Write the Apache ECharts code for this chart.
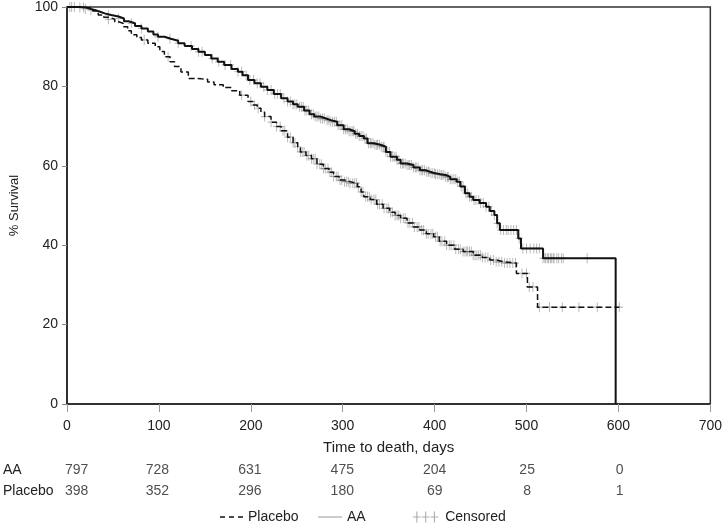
<!DOCTYPE html>
<html>
<head>
<meta charset="utf-8">
<script src="https://cdn.jsdelivr.net/npm/echarts@6/dist/echarts.min.js"></script>
<style>
html,body{margin:0;padding:0;background:#fff;}
#chart{width:725px;height:526px;}
</style>
</head>
<body>
<div id="chart"></div>
<script>
// ---- data ----
const xTicks = [0, 100, 200, 300, 400, 500, 600, 700];
const riskDays = [0, 100, 200, 300, 400, 500, 600];
const riskAA = [797, 728, 631, 475, 204, 25, 0];
const riskPlacebo = [398, 352, 296, 180, 69, 8, 1];

// Kaplan-Meier curves: [day, % survival after event]
const aaCurve = [[0,100],[12,99.9],[20,99.5],[26,99.2],[31,98.8],[36,98.4],[41,98],[48,97.6],[56,97.1],[62,96.4],[67,95.9],[74,95.2],[81,94.6],[88,93.8],[94,93.1],[99,92.5],[106,92],[113,91.5],[121,90.9],[128,90.2],[136,89.4],[143,88.7],[150,87.9],[157,87],[164,86.2],[171,85.4],[179,84.4],[186,83.7],[191,82.8],[197,81.6],[204,80.8],[211,79.9],[218,79.1],[225,78.1],[233,77],[240,76.2],[246,75.5],[251,74.9],[258,73.9],[264,73],[269,72.4],[276,71.9],[282,71.5],[287,71.1],[294,70.2],[301,69.2],[307,68.7],[313,68.1],[318,67.5],[323,66.9],[327,65.7],[334,65.3],[341,64.8],[347,63.5],[352,62.3],[359,61.5],[363,60.6],[370,60.2],[377,59.6],[384,58.9],[390,58.5],[395,58.1],[401,57.9],[406,57.7],[412,57.2],[417,56.6],[424,56],[428,54.8],[433,53.1],[438,52.2],[442,51.4],[449,50.6],[456,49.7],[460,48.6],[465,47.6],[468,45.5],[471,43.8],[491,41.7],[494,39.2],[518,36.7],[597,0]];

const placeboCurve = [[0,100],[15,99.9],[23,99.7],[28,99],[34,98],[40,97.4],[45,96.9],[52,96.3],[56,95.9],[61,95],[66,94],[70,93],[76,92.3],[81,91.7],[88,90.9],[96,90],[101,88.8],[106,87.5],[112,86.2],[117,85],[124,83.6],[132,82],[140,81.9],[146,81.8],[153,81.1],[160,80.4],[170,79.7],[179,78.9],[188,77.8],[197,76.2],[202,75.3],[207,74.5],[211,73.5],[215,72.4],[222,71],[228,69.9],[233,68.8],[240,67.2],[246,65.8],[251,64.8],[254,63.5],[260,62.6],[266,61.8],[272,60.4],[279,59.3],[285,58.4],[290,57.3],[296,56.4],[302,56],[308,55.6],[316,54.7],[320,53.4],[323,52.2],[330,51.5],[337,50.3],[344,49.3],[351,48.3],[357,47.5],[363,46.8],[370,45.6],[377,44.6],[384,43.8],[391,42.9],[399,42.1],[405,41],[413,40],[422,39],[431,38.4],[442,37.5],[452,36.9],[460,36.3],[467,35.8],[476,35.5],[489,32.9],[501,29.5],[512,24.4],[601,24.4]];

// censoring times (days)
const aaCensor = [3,8,14,20,26,45,56,70,81,99,112,121,135,143,147,158,165,172,178,186,190,195,199,203,207,210,214,218,222,226,229,232,236,240,243,246,248,250,253,255,257,259,261,263,266,268,270,272,274,276,278,280,283,285,287,289,291,293,295,297,299,301,303,305,307,309,311,312,314,316,318,320,322,324,326,328,330,331,333,335,337,338,340,342,344,345,347,349,351,352,354,356,358,359,361,363,365,366,368,370,372,373,375,377,379,380,382,384,386,387,389,391,393,394,396,398,400,401,403,405,407,408,410,412,414,415,417,419,421,423,425,427,429,431,434,436,438,440,443,445,448,450,453,456,459,462,465,468,472,475,478,480,483,486,489,492,496,500,504,508,511,514,518,520,521,523,524,526,527,529,530,533,535,538,540,566];
const placeboCensor = [5,18,45,84,110,190,200,204,208,215,222,228,232,235,237,240,243,246,248,251,254,256,258,261,263,266,268,270,272,275,277,279,281,284,286,288,290,293,295,297,299,302,304,306,308,311,313,315,317,320,322,325,327,329,331,334,336,338,340,343,345,348,350,352,354,357,359,361,363,366,368,371,373,376,378,381,383,386,388,391,393,396,398,401,403,406,408,411,413,416,418,421,423,426,428,431,433,435,436,438,440,442,444,446,448,450,452,455,458,461,464,467,470,473,476,479,482,485,488,495,500,503,507,514,525,539,557,577,601];

// ---- helpers ----
function survAt(curve, t) {
  let s = curve[0][1];
  for (const p of curve) { if (p[0] <= t) s = p[1]; }
  return s;
}
const censorData = aaCensor.map(t => [t, survAt(aaCurve, t)])
  .concat(placeboCensor.map(t => [t, survAt(placeboCurve, t)]));

function riskRow(name, vals) {
  return vals.map((v, i) => {
    const item = { value: [riskDays[i], name, v] };
    if (i === 0) item.label = { align: 'left' };
    return item;
  });
}

const FONT = "'Liberation Sans', Arial, sans-serif";
const TXT = '#222';
const plusPath = 'path://M3,0h1v10h-1z M0,4.4h7v1.2h-7z';
const plus3Path = 'path://M3,0h1v10h-1z M0,4.5h7v1h-7z M11,0h1v10h-1z M8,4.5h7v1h-7z M19,0h1v10h-1z M16,4.5h7v1h-7z';
const dashIcon = 'path://M0,0h5v1.6h-5z M9,0h5v1.6h-5z M18,0h5v1.6h-5z';
const solidIcon = 'path://M0,0h24v1.2h-24z';

const chart = echarts.init(document.getElementById('chart'), null, { renderer: 'canvas' });

const riskAxisY = (name, gi) => ({
  type: 'category', gridIndex: gi, data: [name],
  axisLine: { show: false }, axisTick: { show: false }, splitLine: { show: false },
  axisLabel: { show: true, align: 'left', margin: 62, fontSize: 14, color: TXT, fontFamily: FONT }
});
const riskAxisX = gi => ({ type: 'value', gridIndex: gi, min: 0, max: 700, show: false });

const riskSeries = (name, vals, gi) => ({
  type: 'scatter', xAxisIndex: gi, yAxisIndex: gi, symbolSize: 1,
  itemStyle: { color: 'rgba(0,0,0,0)' }, silent: true, legendHoverLink: false,
  label: { show: true, position: 'inside', formatter: p => String(p.data.value[2]), color: TXT, fontSize: 14, fontFamily: FONT },
  data: riskRow(name, vals)
});

const legendText = { fontSize: 14, color: TXT, fontFamily: FONT };

chart.setOption({
  animation: false,
  textStyle: { fontFamily: FONT },
  grid: [
    { left: 65, top: 7, width: 647, height: 397, show: true, borderColor: '#333', borderWidth: 1.5 },
    { left: 65, top: 460, width: 647, height: 20 },
    { left: 65, top: 481, width: 647, height: 20 }
  ],
  xAxis: [
    {
      type: 'value', gridIndex: 0, min: 0, max: 700, interval: 100,
      name: 'Time to death, days', nameLocation: 'middle', nameGap: 36,
      nameTextStyle: { fontSize: 15, color: TXT, fontFamily: FONT },
      axisLine: { lineStyle: { color: '#222', width: 1.5 } },
      axisTick: { length: 8, lineStyle: { color: '#999' } },
      axisLabel: { margin: 15, fontSize: 14, color: TXT, fontFamily: FONT },
      splitLine: { show: false }
    },
    riskAxisX(1), riskAxisX(2)
  ],
  yAxis: [
    {
      type: 'value', gridIndex: 0, min: 0, max: 100, interval: 20,
      name: '% Survival', nameLocation: 'middle', nameGap: 46, nameRotate: 90,
      nameTextStyle: { fontSize: 13, color: TXT, fontFamily: FONT },
      axisLine: { show: true, lineStyle: { color: '#222', width: 1.5 } },
      axisTick: { show: true, length: 5, lineStyle: { color: '#888' } },
      axisLabel: { margin: 9, fontSize: 14, color: TXT, fontFamily: FONT },
      splitLine: { show: false }
    },
    riskAxisY('AA', 1), riskAxisY('Placebo', 2)
  ],
  legend: [
    { left: 220, top: 510, padding: 0, selectedMode: false, itemWidth: 23, itemHeight: 12, symbolKeepAspect: true,
      data: [{ name: 'Placebo', icon: dashIcon, itemStyle: { color: '#111', borderWidth: 0 } }], textStyle: legendText },
    { left: 318, top: 510, padding: 0, selectedMode: false, itemWidth: 24, itemHeight: 12, symbolKeepAspect: true,
      data: [{ name: 'AA', icon: solidIcon, itemStyle: { color: '#aaa', borderWidth: 0 } }], textStyle: legendText },
    { left: 413, top: 510, padding: 0, selectedMode: false, itemWidth: 29, itemHeight: 11, symbolKeepAspect: true,
      data: [{ name: 'Censored', icon: plus3Path, itemStyle: { color: '#999', borderWidth: 0 } }], textStyle: legendText }
  ],
  series: [
    {
      name: 'Censored', type: 'scatter', xAxisIndex: 0, yAxisIndex: 0, z: 1,
      symbol: plusPath, symbolSize: [7, 10], symbolKeepAspect: false,
      itemStyle: { color: 'rgba(100,100,100,0.55)' },
      data: censorData
    },
    {
      name: 'Placebo', type: 'line', xAxisIndex: 0, yAxisIndex: 0, z: 3,
      step: 'end', symbol: 'none', showSymbol: false,
      lineStyle: { color: '#111', width: 1.5, type: [6, 3] },
      itemStyle: { color: '#111' },
      data: placeboCurve
    },
    {
      name: 'AA', type: 'line', xAxisIndex: 0, yAxisIndex: 0, z: 3,
      step: 'end', symbol: 'none', showSymbol: false,
      lineStyle: { color: '#111', width: 2 },
      itemStyle: { color: '#111' },
      data: aaCurve
    },
    riskSeries('AA', riskAA, 1),
    riskSeries('Placebo', riskPlacebo, 2)
  ]
});
</script>
</body>
</html>
